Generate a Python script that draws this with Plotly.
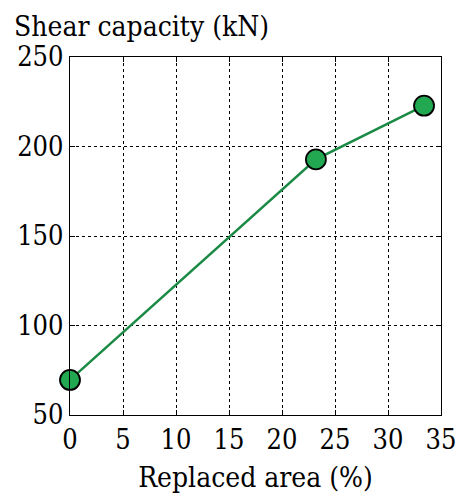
import plotly.graph_objects as go

# Shear capacity versus replaced area
replaced_area = [0, 23.2, 33.4]
shear_capacity = [69.6, 192.8, 222.8]

x_ticks = [0, 5, 10, 15, 20, 25, 30, 35]
y_ticks = [50, 100, 150, 200, 250]

FONT = "DejaVu Serif Condensed, DejaVu Serif"
FSIZE = 27

fig = go.Figure()
fig.add_trace(go.Scatter(
    x=replaced_area,
    y=shear_capacity,
    mode="lines+markers",
    line=dict(color="#1b8a45", width=2.5),
    marker=dict(size=20, color="#22a850", line=dict(color="black", width=1.8)),
    cliponaxis=False,
    showlegend=False,
))

axis_common = dict(
    showline=True,
    linecolor="black",
    linewidth=1.2,
    mirror="ticks",
    ticks="inside",
    ticklen=5,
    tickcolor="black",
    showgrid=True,
    gridcolor="black",
    griddash="dot",
    gridwidth=1,
    zeroline=False,
    automargin=False,
    tickfont=dict(family=FONT, size=FSIZE, color="black"),
)

fig.update_xaxes(
    range=[0, 35],
    tickvals=x_ticks,
    title=dict(text="Replaced area (%)", font=dict(family=FONT, size=FSIZE + 1, color="black"), standoff=13),
    **axis_common,
)
fig.update_yaxes(
    range=[50, 250],
    tickvals=y_ticks,
    **axis_common,
)

fig.add_annotation(
    text="Shear capacity (kN)",
    xref="paper", yref="paper",
    x=0, y=1,
    xanchor="left", yanchor="bottom",
    xshift=-58, yshift=12,
    showarrow=False,
    font=dict(family=FONT, size=FSIZE + 1, color="black"),
)

fig.update_layout(
    width=460,
    height=496,
    margin=dict(l=70, r=19, t=57, b=81),
    paper_bgcolor="white",
    plot_bgcolor="white",
)

fig.write_html("out.html")
